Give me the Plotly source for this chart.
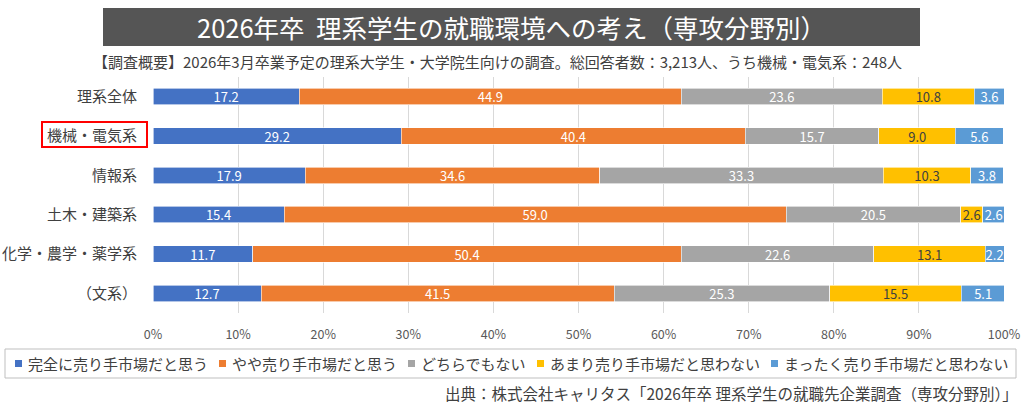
import plotly.graph_objects as go

categories = ["理系全体", "機械・電気系", "情報系", "土木・建築系", "化学・農学・薬学系", "（文系）"]
series_names = ["完全に売り手市場だと思う", "やや売り手市場だと思う", "どちらでもない",
                "あまり売り手市場だと思わない", "まったく売り手市場だと思わない"]
s1 = [17.2, 29.2, 17.9, 15.4, 11.7, 12.7]
s2 = [44.9, 40.4, 34.6, 59.0, 50.4, 41.5]
s3 = [23.6, 15.7, 33.3, 20.5, 22.6, 25.3]
s4 = [10.8, 9.0, 10.3, 2.6, 13.1, 15.5]
s5 = [3.6, 5.6, 3.8, 2.6, 2.2, 5.1]
colors = ["#4472C4", "#ED7D31", "#A5A5A5", "#FFC000", "#5B9BD5"]
text_colors = ["white", "white", "white", "#404040", "white"]
x_ticks = [0, 10, 20, 30, 40, 50, 60, 70, 80, 90, 100]
x_tick_labels = [f"{t}%" for t in x_ticks]

title = "2026年卒  理系学生の就職環境への考え（専攻分野別）"
subtitle = "【調査概要】2026年3月卒業予定の理系大学生・大学院生向けの調査。総回答者数：3,213人、うち機械・電気系：248人"
source = "出典：株式会社キャリタス「2026年卒 理系学生の就職先企業調査（専攻分野別）」"

FONT = "Noto Sans CJK JP"
W, H = 1024, 408
L, R, T, B = 153, 20, 77, 95
pw, ph = W - L - R, H - T - B

def px2x(px):
    return (px - L) / pw

def py2y(py):
    return (H - B - py) / ph

fig = go.Figure()
for name, vals, c, tc in zip(series_names, [s1, s2, s3, s4, s5], colors, text_colors):
    fig.add_trace(go.Bar(
        y=categories, x=vals, name=name, orientation="h",
        marker=dict(color=c, line=dict(color="white", width=0.6)),
        text=[f"{v:.1f}" for v in vals], textposition="inside",
        insidetextanchor="middle", textangle=0,
        textfont=dict(color=tc, size=13, family=FONT),
        hoverinfo="skip", showlegend=False,
    ))

shapes = [
    dict(type="rect", xref="paper", yref="paper",
         x0=px2x(103), x1=px2x(920), y0=py2y(46), y1=py2y(8),
         fillcolor="#555555", line=dict(width=0), layer="below"),
    dict(type="rect", xref="paper", yref="paper",
         x0=px2x(42), x1=px2x(147), y0=py2y(147), y1=py2y(122),
         fillcolor="rgba(0,0,0,0)", line=dict(color="#FF0000", width=2)),
    dict(type="rect", xref="paper", yref="paper",
         x0=px2x(5), x1=px2x(1016), y0=py2y(378), y1=py2y(349),
         fillcolor="rgba(0,0,0,0)", line=dict(color="#BFBFBF", width=1)),
]
annotations = [
    dict(text=title, xref="paper", yref="paper", x=px2x(511), y=py2y(27),
         xanchor="center", yanchor="middle", showarrow=False,
         font=dict(size=25.5, color="white", family=FONT)),
    dict(text=subtitle, xref="paper", yref="paper", x=px2x(497), y=py2y(62),
         xanchor="center", yanchor="middle", showarrow=False,
         font=dict(size=15, color="#404040", family=FONT)),
    dict(text=source, xref="paper", yref="paper", x=px2x(1020), y=py2y(393),
         xanchor="right", yanchor="middle", showarrow=False,
         font=dict(size=15.5, color="#404040", family=FONT)),
]

# legend drawn manually inside a box
LEG_FS = 15
cx = 15
for name, c in zip(series_names, colors):
    shapes.append(dict(type="rect", xref="paper", yref="paper",
                       x0=px2x(cx), x1=px2x(cx + 7), y0=py2y(367), y1=py2y(360),
                       fillcolor=c, line=dict(width=0)))
    annotations.append(dict(text=name, xref="paper", yref="paper",
                            x=px2x(cx + 11), y=py2y(363), xanchor="left", yanchor="middle",
                            showarrow=False,
                            font=dict(size=LEG_FS, color="#404040", family=FONT)))
    cx += 11 + len(name) * LEG_FS + 13

fig.update_layout(
    barmode="stack", bargap=0.58,
    width=W, height=H,
    margin=dict(l=L, r=R, t=T, b=B),
    paper_bgcolor="white", plot_bgcolor="white",
    font=dict(family=FONT, color="#595959"),
    uniformtext=dict(mode="show", minsize=13),
    showlegend=False,
    xaxis=dict(range=[0, 100], tickvals=x_ticks, ticktext=x_tick_labels,
               showgrid=True, gridcolor="#D9D9D9", gridwidth=1,
               zeroline=False, showline=False, automargin=False,
               ticks="outside", ticklen=10, tickcolor="rgba(0,0,0,0)",
               tickfont=dict(size=12.5, color="#595959", family=FONT)),
    yaxis=dict(autorange="reversed", showgrid=False, showline=False, automargin=False,
               ticks="outside", ticklen=12, tickcolor="rgba(0,0,0,0)",
               tickfont=dict(size=15, color="#404040", family=FONT)),
    shapes=shapes,
    annotations=annotations,
)

fig.write_html("out.html")
